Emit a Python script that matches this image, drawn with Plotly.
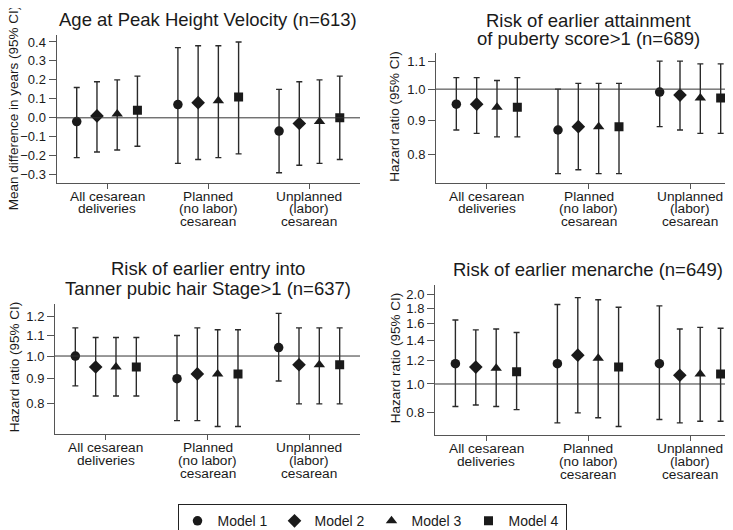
import plotly.graph_objects as go

# ---- data (rows = models, columns = categories) ----
categories = [["All cesarean", "deliveries"],
              ["Planned", "(no labor)", "cesarean"],
              ["Unplanned", "(labor)", "cesarean"]]
models = ["Model 1", "Model 2", "Model 3", "Model 4"]
symbols = ["circle", "diamond", "triangle-up", "square"]
msizes = [9.5, 10.5, 10, 9]

phv_est = [[-0.02, 0.07, -0.07], [0.01, 0.08, -0.03], [0.02, 0.09, -0.02], [0.04, 0.11, 0.00]]
phv_lo = [[-0.21, -0.24, -0.29], [-0.18, -0.22, -0.25], [-0.17, -0.21, -0.24], [-0.15, -0.19, -0.22]]
phv_hi = [[0.16, 0.37, 0.15], [0.19, 0.38, 0.19], [0.20, 0.38, 0.20], [0.22, 0.40, 0.22]]

pub_est = [[0.95, 0.87, 0.99], [0.95, 0.88, 0.98], [0.94, 0.88, 0.97], [0.94, 0.88, 0.97]]
pub_lo = [[0.87, 0.75, 0.88], [0.86, 0.76, 0.87], [0.85, 0.75, 0.86], [0.85, 0.75, 0.86]]
pub_hi = [[1.04, 1.00, 1.10], [1.04, 1.02, 1.10], [1.03, 1.02, 1.09], [1.04, 1.02, 1.09]]

tan_est = [[1.00, 0.90, 1.04], [0.95, 0.92, 0.96], [0.95, 0.92, 0.96], [0.95, 0.92, 0.96]]
tan_lo = [[0.87, 0.74, 0.89], [0.83, 0.74, 0.80], [0.83, 0.72, 0.80], [0.83, 0.72, 0.80]]
tan_hi = [[1.14, 1.10, 1.22], [1.09, 1.14, 1.14], [1.09, 1.13, 1.14], [1.09, 1.13, 1.14]]

men_est = [[1.17, 1.17, 1.17], [1.14, 1.25, 1.07], [1.13, 1.22, 1.08], [1.10, 1.14, 1.08]]
men_lo = [[0.84, 0.74, 0.76], [0.85, 0.80, 0.74], [0.84, 0.77, 0.75], [0.82, 0.72, 0.75]]
men_hi = [[1.64, 1.85, 1.83], [1.52, 1.95, 1.53], [1.53, 1.92, 1.55], [1.49, 1.81, 1.54]]

W, H = 733, 530
FONT = "Liberation Sans, Arial, sans-serif"
INK = "#1a1a1a"
AXC = "#555555"

panels = [
    dict(est=phv_est, lo=phv_lo, hi=phv_hi, title=["Age at Peak Height Velocity (n=613)"],
         title_y=[11.8], ytitle="Mean difference in years (95% CI)", ytx=5.5, yty=100,
         px=(48.5, 352), py=(27, 175), ylog=False, yrange=[-0.342, 0.437],
         ticks=[-0.3, -0.2, -0.1, 0.0, 0.1, 0.2, 0.3, 0.4], ref=0.0),
    dict(est=pub_est, lo=pub_lo, hi=pub_hi,
         title=["Risk of earlier attainment", "of puberty score>1 (n=689)"],
         title_y=[12.1, 30.3], ytitle="Hazard ratio (95% CI)", ytx=387, yty=109,
         px=(428, 733), py=(45, 175), ylog=True, yrange=[-0.1384, 0.0536],
         ticks=[0.8, 0.9, 1.0, 1.1], ref=1.0),
    dict(est=tan_est, lo=tan_lo, hi=tan_hi,
         title=["Risk of earlier entry into", "Tanner pubic hair Stage>1 (n=637)"],
         title_y=[261, 281.5], ytitle="Hazard ratio (95% CI)", ytx=6, yty=360,
         px=(47, 352), py=(297, 427), ylog=True, yrange=[-0.1582, 0.1044],
         ticks=[0.8, 0.9, 1.0, 1.1, 1.2], ref=1.0),
    dict(est=men_est, lo=men_lo, hi=men_hi, title=["Risk of earlier menarche (n=649)"],
         title_y=[262], ytitle="Hazard ratio (95% CI)", ytx=387, yty=351,
         px=(427, 733), py=(278, 428), ylog=True, yrange=[-0.172, 0.331],
         ticks=[0.8, 1.0, 1.2, 1.4, 1.6, 1.8, 2.0], ref=1.0),
]

offsets = [-0.3, -0.1, 0.1, 0.3]

fig = go.Figure()
annotations = []
shapes = []
layout = {}

for p_i, p in enumerate(panels):
    n = "" if p_i == 0 else str(p_i + 1)
    xa, ya = "x" + n, "y" + n
    for m_i, name in enumerate(models):
        est = p["est"][m_i]
        xs = [c + 1 + offsets[m_i] for c in range(len(est))]
        fig.add_trace(go.Scatter(
            x=xs, y=est, mode="markers", name=name, legendgroup=name,
            showlegend=(p_i == 0), xaxis=xa, yaxis=ya,
            marker=dict(symbol=symbols[m_i], size=msizes[m_i], color=INK),
            error_y=dict(type="data", symmetric=False,
                         array=[h - e for h, e in zip(p["hi"][m_i], est)],
                         arrayminus=[e - l for e, l in zip(est, p["lo"][m_i])],
                         color="#2a2a2a", thickness=1.4, width=3),
        ))
    x0, x1 = p["px"]
    y0, y1 = p["py"]
    layout["xaxis" + n] = dict(
        domain=[x0 / W, x1 / W], anchor=ya, range=[0.5, 3.5],
        tickvals=[1, 2, 3], showticklabels=False, ticks="outside", ticklen=5,
        tickcolor=AXC, showline=True, linecolor=AXC, linewidth=1,
        showgrid=False, zeroline=False, fixedrange=True)
    layout["yaxis" + n] = dict(
        domain=[1 - y1 / H, 1 - y0 / H], anchor=xa, range=p["yrange"],
        type="log" if p["ylog"] else "linear",
        tickvals=p["ticks"], ticktext=[f"{t:.1f}".replace("-", "\u2212") for t in p["ticks"]],
        ticks="outside", ticklen=7, tickcolor=AXC, showline=True, linecolor=AXC,
        linewidth=1, showgrid=False, zeroline=False, fixedrange=True,
        tickfont=dict(size=13, color=INK, family=FONT))
    shapes.append(dict(type="line", xref=xa + " domain", yref=ya, x0=0, x1=1,
                       y0=p["ref"], y1=p["ref"], line=dict(color="#333333", width=1)))
    # panel titles
    for line, ty in zip(p["title"], p["title_y"]):
        annotations.append(dict(text=line, xref="paper", yref="paper",
                                x=(x0 + x1) / 2 / W, y=1 - ty / H, xanchor="center",
                                yanchor="middle", showarrow=False,
                                font=dict(size=18.5, color=INK, family=FONT)))
    # y axis title
    annotations.append(dict(text=p["ytitle"], xref="paper", yref="paper",
                            x=p["ytx"] / W, y=1 - p["yty"] / H, textangle=-90,
                            xanchor="center", yanchor="middle", showarrow=False,
                            font=dict(size=13.5, color=INK, family=FONT)))
    # category labels
    for c_i, lines in enumerate(categories):
        for l_i, line in enumerate(lines):
            annotations.append(dict(text=line, xref=xa, yref=ya + " domain",
                                    x=c_i + 1, y=0, xanchor="center", yanchor="middle",
                                    yshift=-(13.5 + 12.7 * l_i), showarrow=False,
                                    font=dict(size=13.7, color=INK, family=FONT)))

fig.update_layout(
    width=W, height=H,
    margin=dict(l=0, r=0, t=0, b=0),
    paper_bgcolor="white", plot_bgcolor="white",
    font=dict(family=FONT, color=INK),
    annotations=annotations, shapes=shapes,
    legend=dict(orientation="h", x=364.5 / W, xanchor="center",
                y=1 - 514 / H, yanchor="middle",
                bordercolor="#222222", borderwidth=1.2,
                font=dict(size=14, color=INK, family=FONT),
                entrywidth=52, entrywidthmode="pixels"),
    **layout,
)

fig.write_html("out.html")
